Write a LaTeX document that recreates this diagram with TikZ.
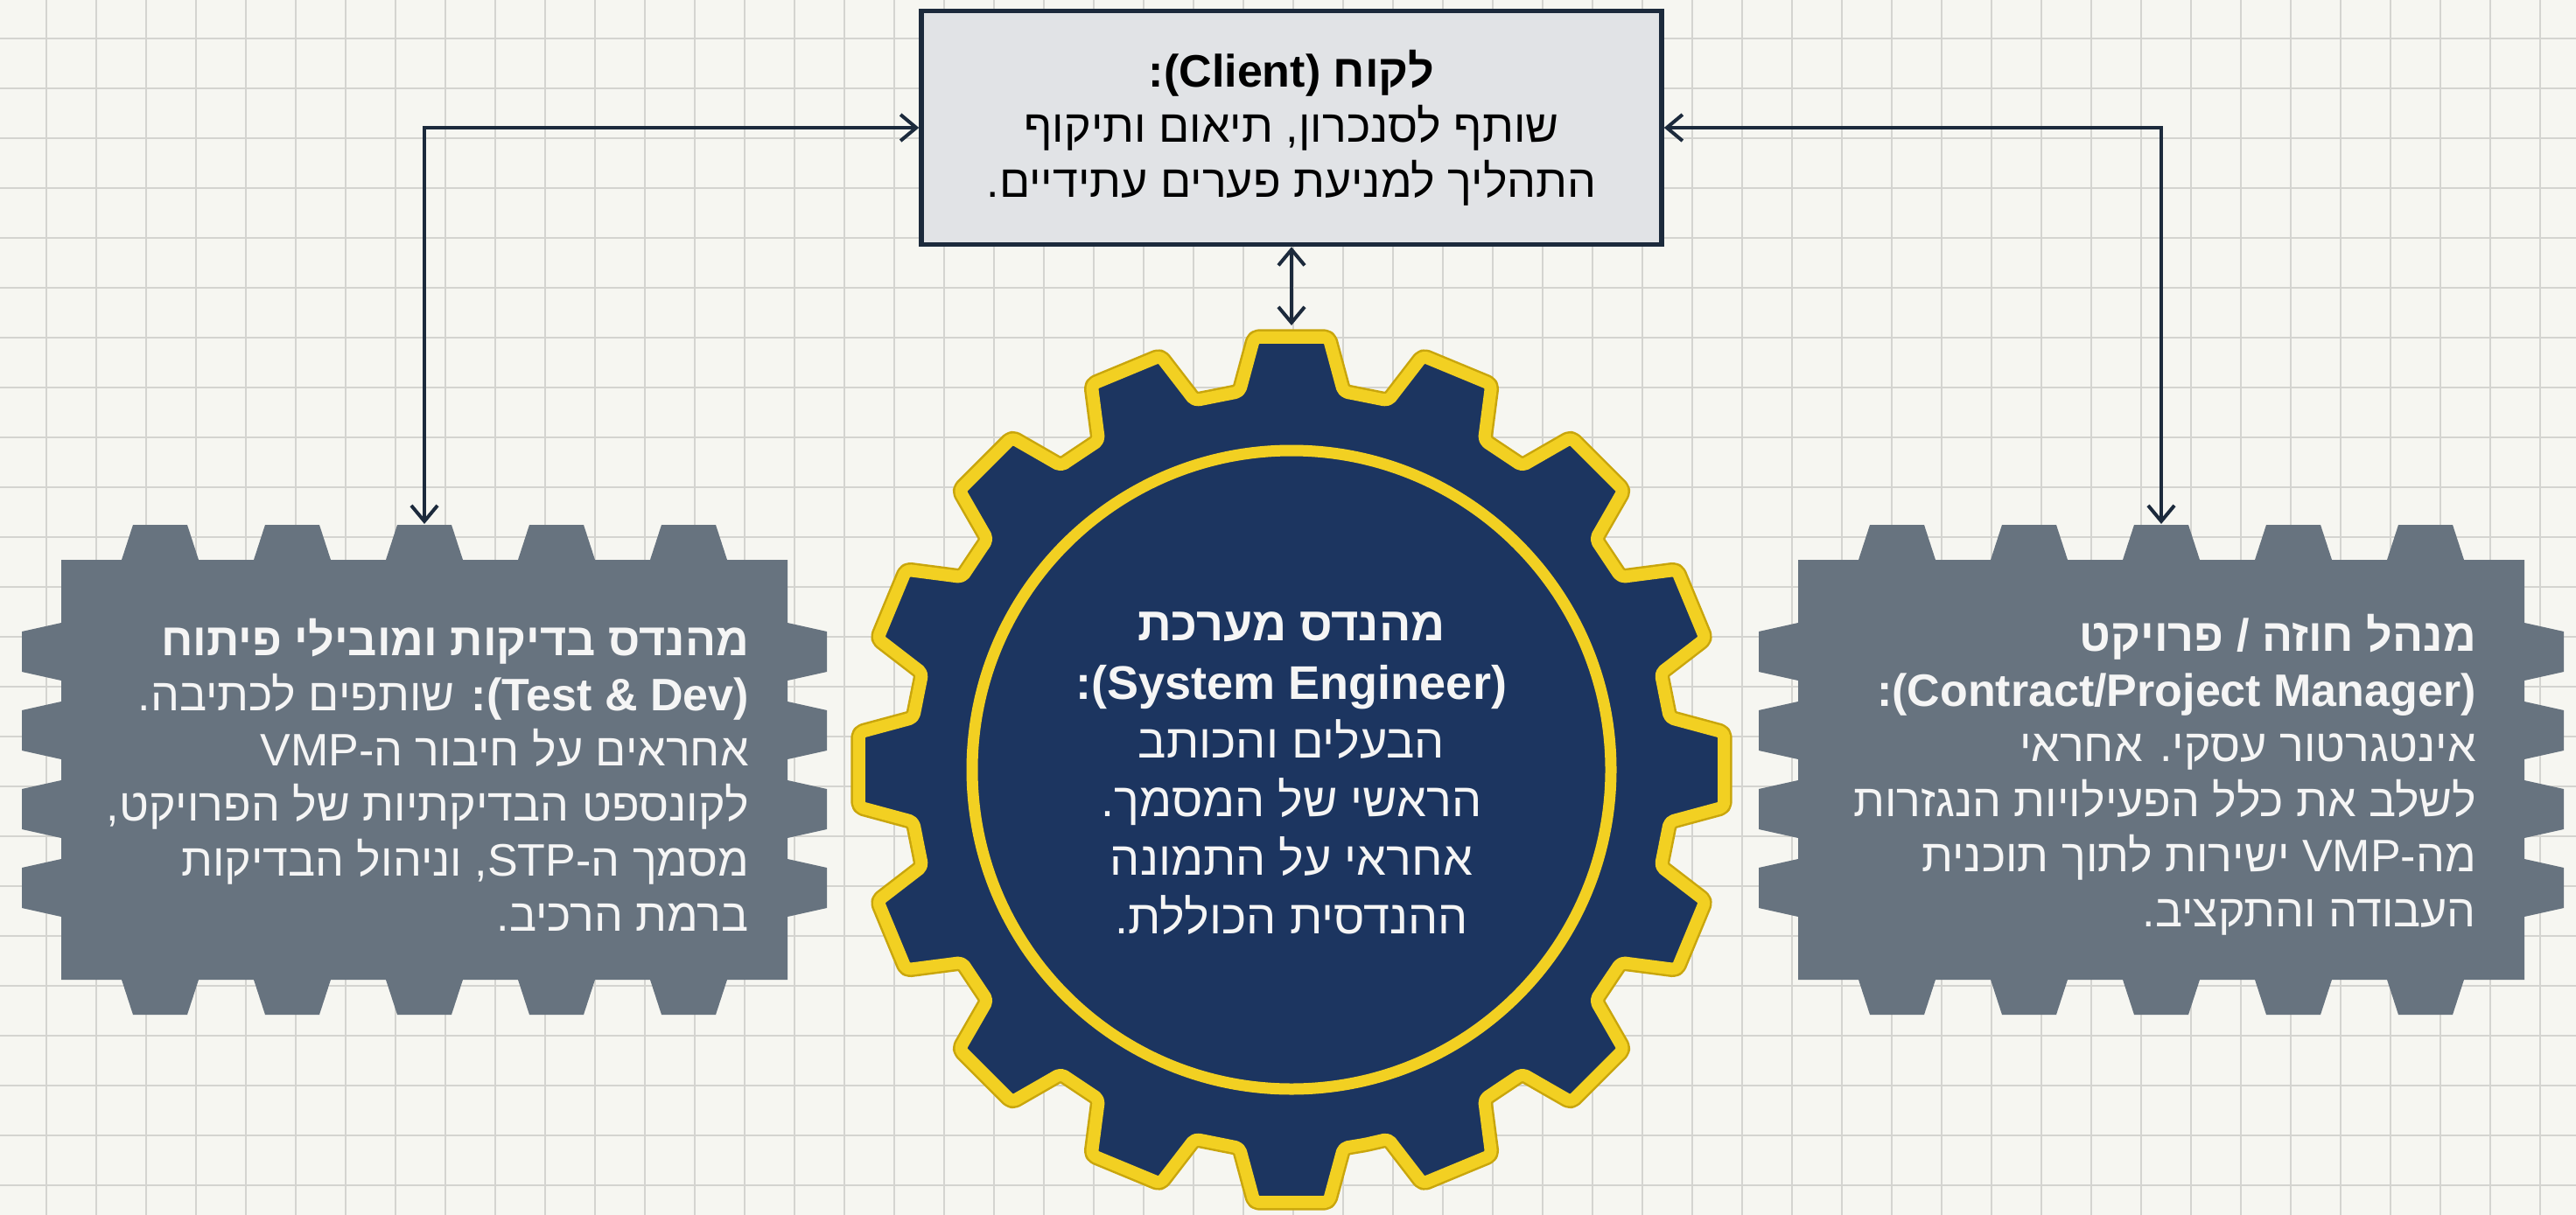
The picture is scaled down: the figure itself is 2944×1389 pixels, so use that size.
\documentclass[tikz,border=0pt]{standalone}
\usepackage{fontspec}
\usetikzlibrary{arrows.meta}
\newfontfamily\hebfont[Script=Hebrew]{Liberation Sans}
\newfontfamily\latfont{Liberation Sans}
\TeXXeTstate=1
\newcommand\engl[1]{{\latfont\beginL #1\endL}}
\definecolor{bgc}{HTML}{F6F6F1}
\definecolor{gridc}{HTML}{D4D4D0}
\definecolor{navy}{HTML}{1C3560}
\definecolor{gold}{HTML}{F2D022}
\definecolor{darkgold}{HTML}{C9A60C}
\definecolor{slate}{HTML}{67737F}
\definecolor{clientfill}{HTML}{E1E3E6}
\definecolor{inkc}{HTML}{1C2A3C}
\definecolor{lightc}{HTML}{F5F5F5}
\tikzset{
  gridline/.style={draw=gridc, line width=2pt},
  conn/.style={draw=inkc, line width=4pt, {Straight Barb[length=18pt,width=30pt,line width=4pt]}-{Straight Barb[length=18pt,width=30pt,line width=4pt]}},
  clientbox/.style={draw=inkc, line width=5.5pt, fill=clientfill, inner sep=0pt,
    minimum width=846pt, minimum height=267pt, align=center, text=black,
    font=\hebfont\fontsize{52}{63}\selectfont},
  boxtext/.style={align=right, text=lightc, inner sep=0pt, anchor=east,
    font=\hebfont\fontsize{52}{63}\selectfont},
  geartext/.style={align=center, text=lightc, inner sep=0pt,
    font=\hebfont\fontsize{54}{67}\selectfont},
  gearrim/.style={draw=darkgold, line width=19pt, rounded corners=5pt, line join=round},
  gearbody/.style={fill=navy, draw=gold, line width=14pt, rounded corners=5pt, line join=round},
  ringstyle/.style={draw=gold, line width=13pt, fill=navy},
  toothbox/.style={fill=slate}
}
\newcommand\gearbox[2]{%
  \fill[toothbox, shift={(#1,#2)}] (-415,-240)
    \foreach \dx in {-302,-151,0,151,302}{ -- (\dx-44,-240) -- (\dx-31,-280) -- (\dx+31,-280) -- (\dx+44,-240)}
    -- (415,-240)
    \foreach \dy in {-135,-45,45,135}{ -- (415,\dy-33) -- (460,\dy-23) -- (460,\dy+23) -- (415,\dy+33)}
    -- (415,240)
    \foreach \dx in {302,151,0,-151,-302}{ -- (\dx+44,240) -- (\dx+31,280) -- (\dx-31,280) -- (\dx-44,240)}
    -- (-415,240)
    \foreach \dy in {135,45,-45,-135}{ -- (-415,\dy+33) -- (-460,\dy+23) -- (-460,\dy-23) -- (-415,\dy-33)}
    -- cycle;}
\newcommand\gearpath[1]{%
  \path[#1, shift={(1476,880)}] (90-11.25:436)
  \foreach \i in {0,...,15}{
    -- ({90+22.5*\i-7.8}:436) -- ({90+22.5*\i-4.9}:496) -- ({90+22.5*\i+4.9}:496) -- ({90+22.5*\i+7.8}:436)
  } -- cycle;}
\begin{document}
\begin{tikzpicture}[x=1pt,y=-1pt]
\useasboundingbox (0,0) rectangle (2944,1389);
\fill[bgc] (0,0) rectangle (2944,1389);
\foreach \gx in {0,...,50} \draw[gridline] ({52.7+57*\gx},0) -- ({52.7+57*\gx},1389);
\foreach \gy in {0,...,23} \draw[gridline] (0,{44+57*\gy}) -- (2944,{44+57*\gy});

% side gear boxes
\gearbox{485}{880}
\gearbox{2470}{880}

% central gear
\gearpath{gearrim}
\gearpath{gearbody}
\path[ringstyle] (1476,880) circle[radius=365pt];

% client box
\node[clientbox] (client) at (1476,146) {%
  \beginR{\bfseries לקוח \engl{(Client)}:}\endR\\
  \beginR שותף לסנכרון, תיאום ותיקוף\endR\\
  \beginR התהליך למניעת פערים עתידיים.\endR};

% texts
\node[geartext] (setext) at (1476,884) {%
  \beginR{\bfseries מהנדס מערכת}\endR\\
  \beginR{\bfseries\engl{(System Engineer)}:}\endR\\
  \beginR הבעלים והכותב\endR\\
  \beginR הראשי של המסמך.\endR\\
  \beginR אחראי על התמונה\endR\\
  \beginR ההנדסית הכוללת.\endR};

\node[boxtext] (tdtext) at (856,886) {%
  \beginR{\bfseries מהנדס בדיקות ומובילי פיתוח}\endR\\
  \beginR{\bfseries\engl{(Test \& Dev)}:} שותפים לכתיבה.\endR\\
  \beginR אחראים על חיבור ה-\engl{VMP}\endR\\
  \beginR לקונספט הבדיקתיות של הפרויקט,\endR\\
  \beginR מסמך ה-\engl{STP}, וניהול הבדיקות\endR\\
  \beginR ברמת הרכיב.\endR};

\node[boxtext] (pmtext) at (2830,886) {%
  \beginR{\bfseries מנהל חוזה / פרויקט}\endR\\
  \beginR{\bfseries\engl{(Contract/Project Manager)}:}\endR\\
  \beginR אינטגרטור עסקי. אחראי\endR\\
  \beginR לשלב את כלל הפעילויות הנגזרות\endR\\
  \beginR מה-\engl{VMP}{} ישירות לתוך תוכנית\endR\\
  \beginR העבודה והתקציב.\endR};

% connector endpoints
\coordinate (tdtop) at (485,599);
\coordinate (pmtop) at (2470,599);
\coordinate (setop) at (1476,372);

\draw[conn] (client.west) -| (tdtop);
\draw[conn] (client.east) -| (pmtop);
\draw[conn] (client.south) -- (setop);
\end{tikzpicture}
\end{document}
